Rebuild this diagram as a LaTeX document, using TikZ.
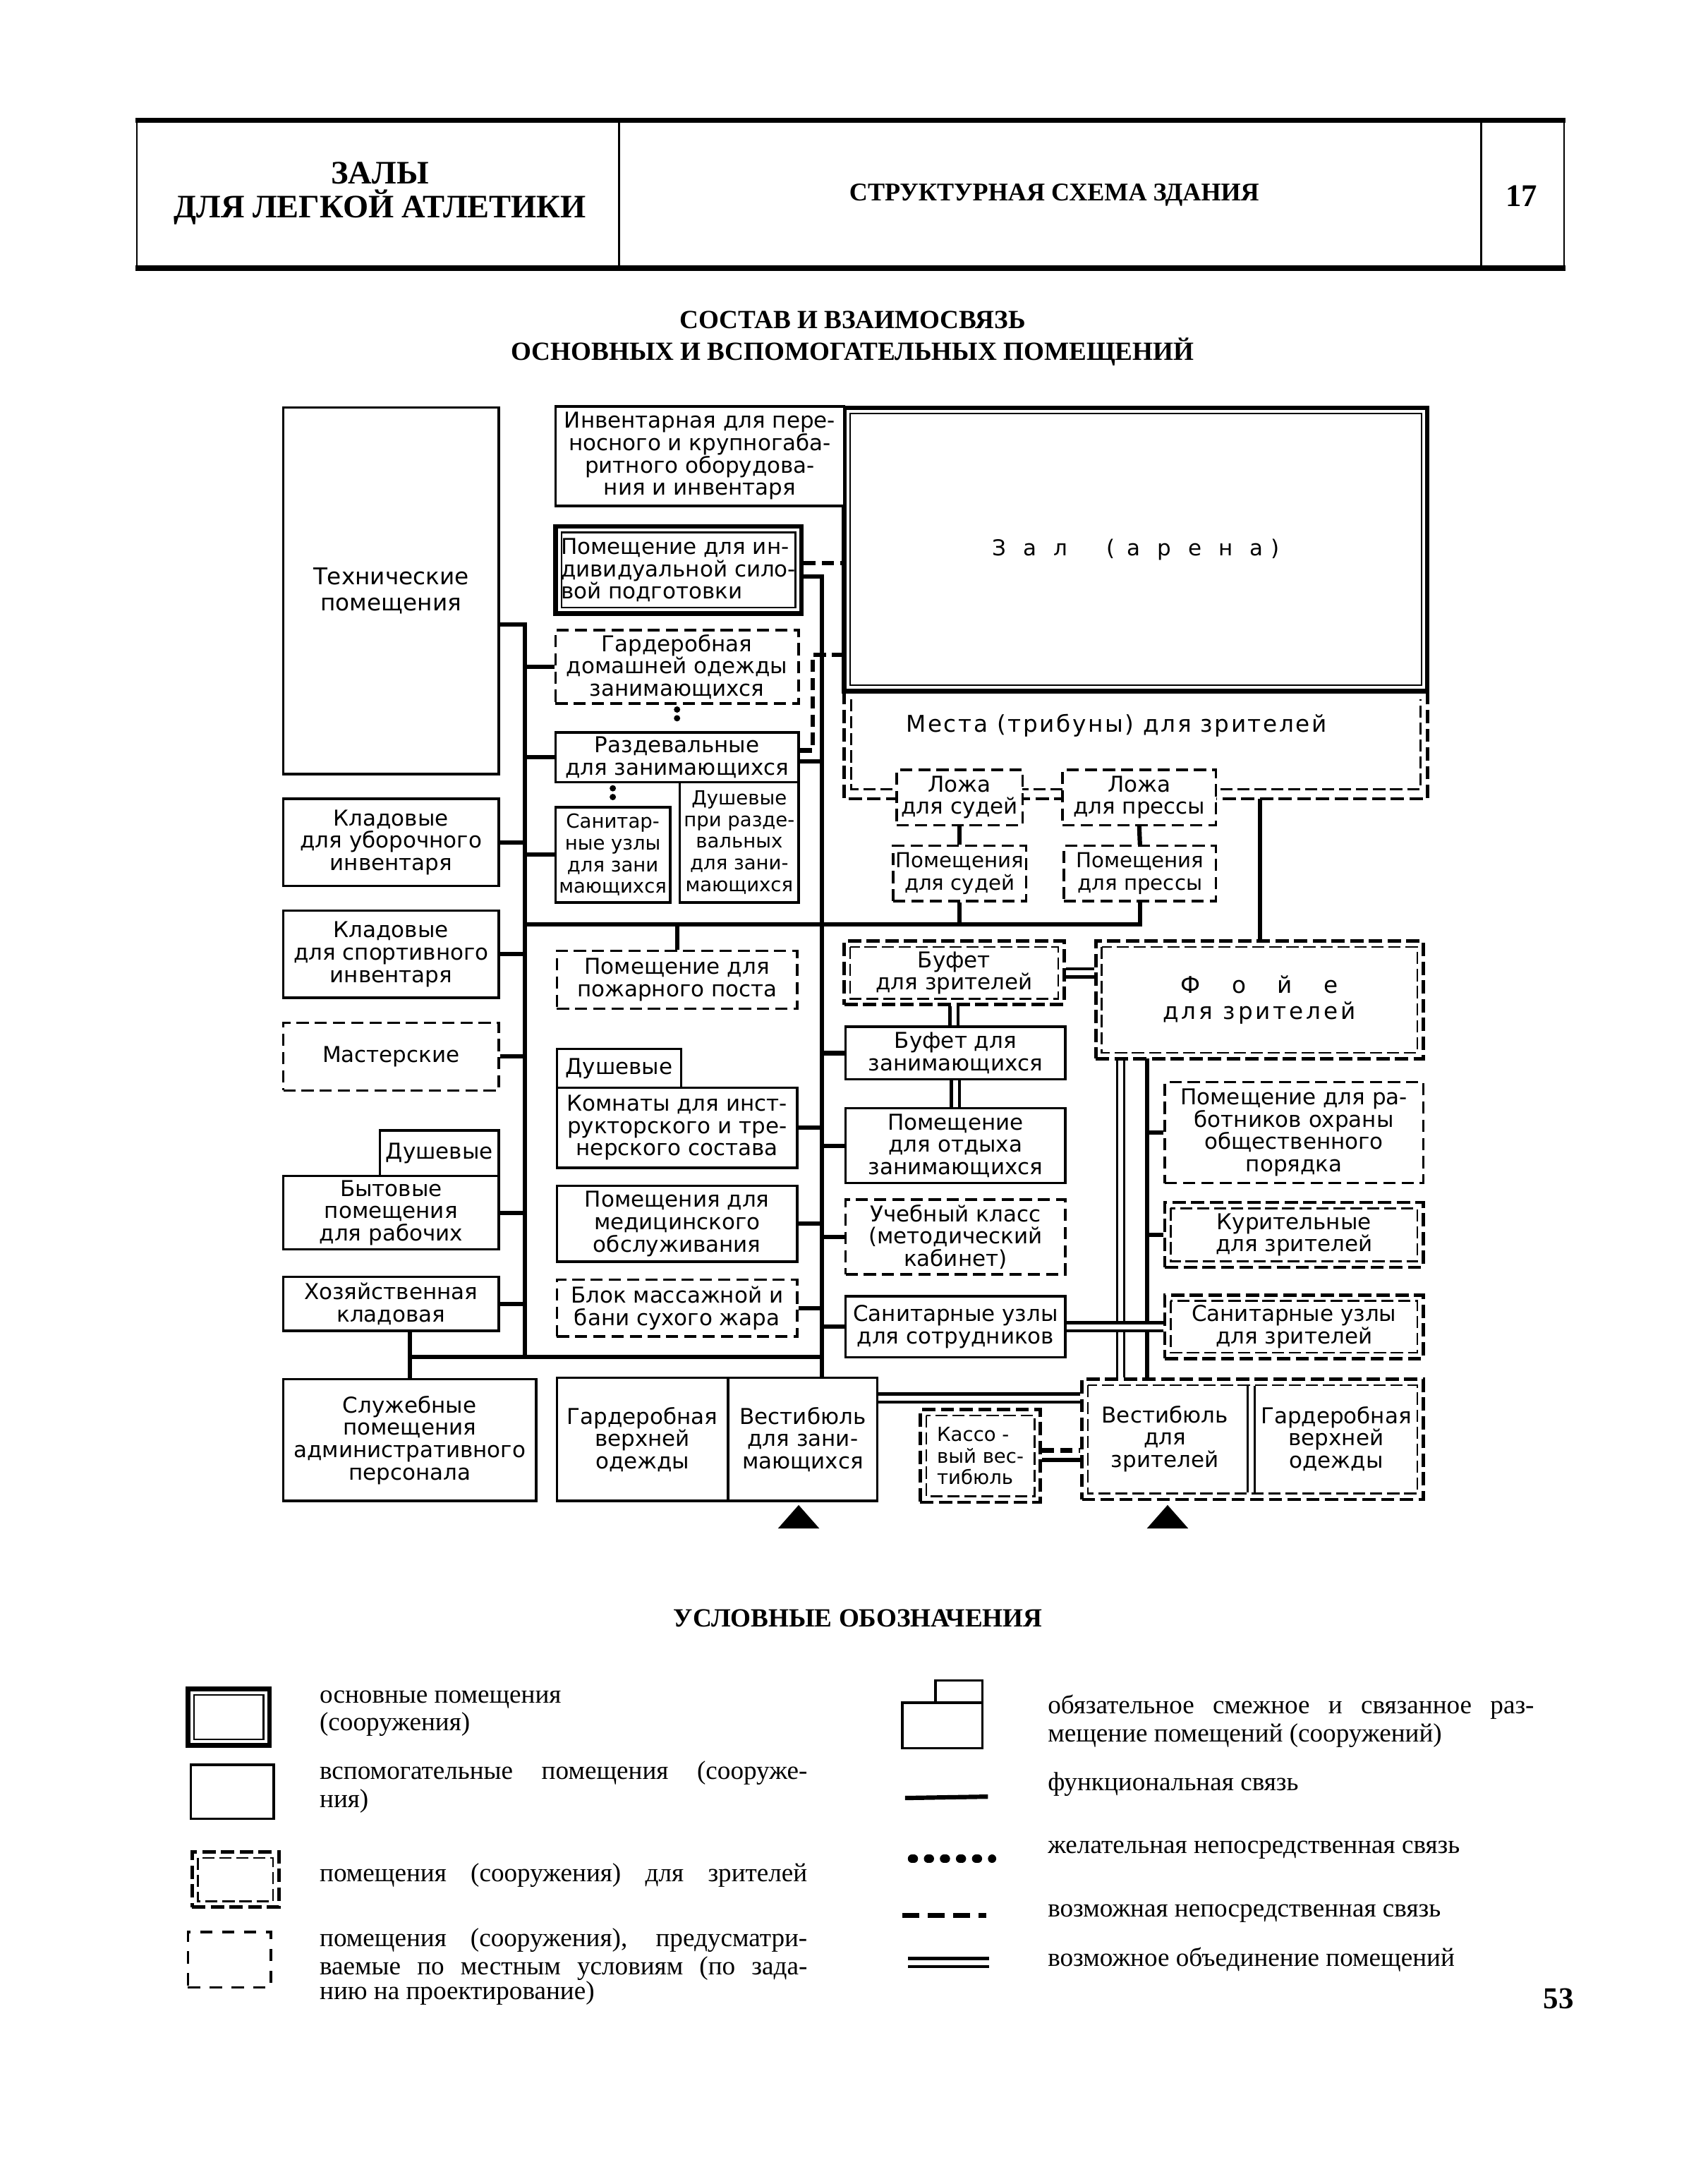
\documentclass[tikz,border=0pt]{standalone}
\usepackage{fontspec}
\setmainfont{Liberation Serif}
\newfontfamily\dia{DejaVu Sans}
\usetikzlibrary{calc}
\pgfdeclarelayer{bg}
\pgfsetlayers{bg,main}
\newcommand\Bx[7]{\node[#6, minimum width={(#4-#2)*0.02cm}, minimum height={(#5-#3)*0.02cm}] (#1) at ({(#2+#4)/2},{(#3+#5)/2}) {#7};}
\newcommand\InMain[1]{\draw[line width=0.7pt] ([shift={(0.12cm,-0.12cm)}]#1.north west) rectangle ([shift={(-0.12cm,0.12cm)}]#1.south east);}
\newcommand\InSp[1]{\draw[line width=0.7pt, dash pattern=on 5pt off 2pt] ([shift={(0.11cm,-0.11cm)}]#1.north west) rectangle ([shift={(-0.11cm,0.11cm)}]#1.south east);}
\begin{document}
\begin{tikzpicture}[x=0.02cm,y=-0.02cm,
  txt/.style={font=\dia\fontsize{9}{9.2}\selectfont, align=center, inner sep=1pt},
  aux/.style={txt, draw, line width=1pt, fill=white},
  opt/.style={aux, dash pattern=on 5pt off 2.5pt},
  mainb/.style={txt, draw, line width=1.9pt, fill=white},
  spec/.style={txt, draw, line width=1.4pt, dash pattern=on 5.5pt off 2.2pt, fill=white},
  func/.style={line width=1.8pt},
  poss/.style={line width=1.8pt, dash pattern=on 5pt off 2.5pt},
  desir/.style={line width=2.6pt, line cap=round, dash pattern=on 0pt off 3.6pt, shorten <=2pt, shorten >=2pt},
  union/.style={double, double distance=2pt, line width=1.3pt},
  legt/.style={font=\fontsize{10.8}{10.3}\selectfont, align=left, inner sep=0pt, anchor=north west},
  small/.style={font=\dia\fontsize{8}{8.9}\selectfont},
]
\useasboundingbox (0,0) rectangle (1236,1568);

% header
\draw[line width=2.2pt] (98,87) -- (1133,87);
\draw[line width=2.2pt] (98,194) -- (1133,194);
\draw[line width=0.8pt] (99,87)--(99,194) (448,87)--(448,194) (1072,87)--(1072,194) (1132,87)--(1132,194);
\node[font=\bfseries\fontsize{13.5}{13.8}\selectfont, align=center] (h1) at (275,140) {ЗАЛЫ\\ДЛЯ ЛЕГКОЙ АТЛЕТИКИ};
\node[font=\bfseries\fontsize{10.5}{12}\selectfont] (h2) at (763,141) {СТРУКТУРНАЯ СХЕМА ЗДАНИЯ};
\node[font=\bfseries\fontsize{13}{13}\selectfont] (h3) at (1101,142) {17};
\node[font=\bfseries\fontsize{10.8}{13.1}\selectfont, align=center] (t1) at (617,245) {СОСТАВ И ВЗАИМОСВЯЗЬ\\ОСНОВНЫХ И ВСПОМОГАТЕЛЬНЫХ ПОМЕЩЕНИЙ};
\node[font=\bfseries\fontsize{10.8}{12}\selectfont] (t2) at (621,1171) {УСЛОВНЫЕ ОБОЗНАЧЕНИЯ};
\node[font=\bfseries\fontsize{12.5}{12}\selectfont] (pg) at (1128,1446) {53};

% spectators seats (U-shaped frame under the hall)
\Bx{mesta}{611}{500}{1033}{578}{txt}{}
\draw[line width=1.4pt, dash pattern=on 5.5pt off 2.2pt] (611,500) -- (611,578) -- (1033,578) -- (1033,500);
\draw[line width=0.7pt, dash pattern=on 5pt off 2pt] (616,506) -- (616,571) -- (1028,571) -- (1028,506);
\node[txt, font=\dia\fontsize{9.5}{10}\selectfont\addfontfeature{LetterSpace=8}] (mestat) at (808,525) {Места (трибуны) для зрителей};

% hall
\Bx{zal}{611}{295}{1033}{500}{mainb}{З\hspace{7pt}а\hspace{7pt}л\hspace{16pt}(\hspace{5pt}а\hspace{7pt}р\hspace{7pt}е\hspace{7pt}н\hspace{7pt}а\hspace{3pt})}
\InMain{zal}

% boxes
\Bx{tech}{205}{295}{361}{560}{aux, font=\dia\fontsize{9.5}{10.8}\selectfont}{Технические\\помещения}
\Bx{inv}{402}{294}{611}{366}{aux}{Инвентарная для пере-\\носного и крупногаба-\\ритного оборудова-\\ния и инвентаря}
\Bx{sudL}{649}{557}{740}{597}{opt}{Ложа\\для судей}
\Bx{presL}{769}{557}{880}{597}{opt}{Ложа\\для прессы}
\Bx{sudS}{649}{612}{740}{652}{opt, font=\dia\fontsize{8.5}{9.2}\selectfont}{Помещения\\для судей}
\Bx{presS}{770}{612}{880}{652}{opt, font=\dia\fontsize{8.5}{9.2}\selectfont}{Помещения\\для прессы}

\Bx{sil}{402}{381}{580}{444}{mainb, align=left}{Помещение для ин-\\дивидуальной сило-\\вой подготовки}
\InMain{sil}
\Bx{gard}{402}{456}{578}{509}{opt}{Гардеробная\\домашней одежды\\занимающихся}
\Bx{razd}{402}{530}{578}{566}{aux}{Раздевальные\\для занимающихся}
\Bx{sanz}{402}{584}{485}{653}{aux, small}{Санитар-\\ные узлы\\для зани\\мающихся}
\Bx{dush}{492}{566}{578}{653}{aux, small}{Душевые\\при разде-\\вальных\\для зани-\\мающихся}

\Bx{klad1}{205}{578}{361}{641}{aux}{Кладовые\\для уборочного\\инвентаря}
\Bx{klad2}{205}{659}{361}{722}{aux}{Кладовые\\для спортивного\\инвентаря}
\Bx{mast}{205}{740}{361}{789}{opt}{Мастерские}
\Bx{dush2}{275}{818}{361}{851}{aux}{Душевые}
\Bx{byt}{205}{851}{361}{904}{aux}{Бытовые\\помещения\\для рабочих}
\Bx{hoz}{205}{924}{361}{963}{aux}{Хозяйственная\\кладовая}
\Bx{sluzh}{205}{998}{388}{1086}{aux}{Служебные\\помещения\\административного\\персонала}
\Bx{gardZ}{403}{997}{527}{1086}{aux}{Гардеробная\\верхней\\одежды}
\Bx{vestZ}{527}{997}{635}{1086}{aux}{Вестибюль\\для зани-\\мающихся}

\Bx{pozh}{403}{688}{577}{730}{opt}{Помещение для\\пожарного поста}
\Bx{dush3}{403}{759}{493}{787}{aux}{Душевые}
\Bx{komn}{403}{787}{577}{845}{aux}{Комнаты для инст-\\рукторского и тре-\\нерского состава}
\Bx{med}{403}{858}{577}{913}{aux}{Помещения для\\медицинского\\обслуживания}
\Bx{blok}{403}{926}{577}{967}{opt}{Блок массажной и\\бани сухого жара}

\Bx{bufZr}{611}{681}{770}{727}{spec}{Буфет\\для зрителей}
\InSp{bufZr}
\Bx{bufZ}{612}{743}{771}{781}{aux}{Буфет для\\занимающихся}
\Bx{otd}{612}{802}{771}{856}{aux}{Помещение\\для отдыха\\занимающихся}
\Bx{ucheb}{612}{868}{771}{922}{opt}{Учебный класс\\(методический\\кабинет)}
\Bx{sanS}{612}{938}{771}{982}{aux}{Санитарные узлы\\для сотрудников}

\Bx{foy}{793}{681}{1030}{766}{spec, font=\dia\fontsize{9.5}{10.8}\selectfont}{Ф\hspace{13pt}о\hspace{13pt}й\hspace{13pt}е\\\addfontfeature{LetterSpace=12}для зрителей}
\InSp{foy}
\Bx{ohr}{843}{783}{1030}{856}{opt}{Помещение для ра-\\ботников охраны\\общественного\\порядка}
\Bx{kur}{843}{870}{1030}{917}{spec}{Курительные\\для зрителей}
\InSp{kur}
\Bx{sanZr}{843}{937}{1030}{983}{spec}{Санитарные узлы\\для зрителей}
\InSp{sanZr}
\Bx{vestZr}{783}{998}{1030}{1085}{spec}{}
\InSp{vestZr}
\draw[line width=0.7pt] (903,1003) -- (903,1080) (908,1003) -- (908,1080);
\node[txt] (vzt) at (843,1041) {Вестибюль\\для\\зрителей};
\node[txt] (gzt) at (967,1041) {Гардеробная\\верхней\\одежды};
\Bx{kassa}{666}{1020}{753}{1087}{spec, small, align=left}{Кассо -\\вый вес-\\тибюль}
\InSp{kassa}

% entrances
\fill (563,1106) -- (578,1089) -- (593,1106) -- cycle;
\fill (830,1106) -- (845,1089) -- (860,1106) -- cycle;

% connectors
\begin{pgfonlayer}{bg}
\coordinate (sAt) at (380,452);
\coordinate (sAb) at (380,982);
\coordinate (sBt) at (595,417);
\coordinate (hL) at (380,669);
\coordinate (dz) at (588,474);
\coordinate (mf) at (912,578);
\coordinate (fv) at (811,766);
\coordinate (fw) at (830,766);
\draw[func] (tech.east |- sAt) -- (sAt) -- (sAb);
\draw[func] (sluzh.north |- sAb) -- (sAb -| sBt);
\draw[func] (hoz.south -| sluzh.north) -- (sluzh.north);
\draw[func] (sBt -| sil.east) -- (sBt) -- (sBt |- vestZ.north);
\foreach \n in {klad1,klad2,mast,byt,hoz} \draw[func] (\n.east) -- (\n.east -| sAt);
\foreach \n in {gard,razd,sanz} \draw[func] (\n.west) -- (\n.west -| sAt);
\foreach \n in {komn,med,blok} \draw[func] (\n.east) -- (\n.east -| sBt);
\foreach \n in {bufZ,otd,ucheb} \draw[func] (\n.west) -- (\n.west -| sBt);
\draw[func] ([yshift=-0.06cm]razd.east) -- ([yshift=-0.06cm]razd.east -| sBt);
\draw[func] (sanS.west) -- (sanS.west -| sBt);
\draw[func] (hL) -- (hL -| presS.south) -- (presS.south);
\draw[func] (sudS.south) -- (sudS.south |- hL);
\draw[func] (pozh.north) -- (pozh.north |- hL);
\draw[func] (sudL.south) -- (sudS.north);
\draw[func] (presL.south) -- (presS.north);
\draw[func] (mf) -- (mf |- foy.north);
\draw[poss] ([yshift=0.1cm]sil.east) -- ([yshift=0.1cm]sil.east -| zal.west);
\draw[poss] ([yshift=0.1cm]razd.east) -| (dz) -- (dz -| zal.west);
\draw[desir] (gard.south) -- (razd.north);
\draw[desir] (sanz.north |- razd.south) -- (sanz.north);
\draw[union] (bufZr.east) -- (bufZr.east -| foy.west);
\draw[union] (bufZr.south) -- (bufZr.south |- bufZ.north);
\draw[union] (bufZ.south) -- (bufZ.south |- otd.north);
\draw[union, line width=0.9pt] (fv) -- (fv |- vestZr.north);
\draw[func] (fw) -- (fw |- vestZr.north);
\foreach \n in {ohr,kur} \draw[func] (\n.west) -- (\n.west -| fw);
\draw[union] (sanS.east) -- (sanS.east -| sanZr.west);
\draw[union] ([yshift=0.6cm]vestZ.east) -- ([yshift=0.6cm]vestZ.east -| vestZr.west);
\draw[poss] ([yshift=0.08cm]kassa.east) -- ([yshift=0.08cm]kassa.east -| vestZr.west);
\draw[func] ([yshift=-0.06cm]kassa.east) -- ([yshift=-0.06cm]kassa.east -| vestZr.west);
\end{pgfonlayer}

% legend
\Bx{lg1}{136}{1222}{195}{1263}{mainb}{}
\InMain{lg1}
\Bx{lg2}{138}{1277}{198}{1316}{aux}{}
\Bx{lg3}{139}{1340}{202}{1380}{spec}{}
\InSp{lg3}
\Bx{lg4}{136}{1398}{196}{1438}{opt, dash pattern=on 5pt off 4pt}{}
\Bx{lg5}{653}{1232}{711}{1265}{aux}{}
\Bx{lg6}{677}{1216}{711}{1232}{aux}{}
\coordinate (la1) at (655,1301); \coordinate (lb1) at (715,1300);
\coordinate (la2) at (660,1345); \coordinate (lb2) at (718,1345);
\coordinate (la3) at (653,1386); \coordinate (lb3) at (714,1386);
\coordinate (la4) at (657,1420); \coordinate (lb4) at (716,1420);
\draw[func] (la1) -- (lb1);
\draw[line width=3.4pt, line cap=round, dash pattern=on 0.8pt off 5.8pt] (la2) -- (lb2);
\draw[poss, dash pattern=on 7pt off 3.5pt] (la3) -- (lb3);
\draw[union] (la4) -- (lb4);
\node[legt] (lt1) at (231,1219) {\strut основные помещения\\(сооружения)};
\node[legt] (lt2) at (231,1274) {\strut\makebox[7.06cm][s]{вспомогательные помещения (сооруже-}\\ния)};
\node[legt] (lt3) at (231,1348) {\strut\makebox[7.06cm][s]{помещения (сооружения) для зрителей}};
\node[legt] (lt4) at (231,1395) {\strut\makebox[7.06cm][s]{помещения (сооружения), предусматри-}\\\makebox[7.06cm][s]{ваемые по местным условиям (по зада-}\\нию на проектирование)};
\node[legt] (lt5) at (758,1226) {\strut\makebox[7.04cm][s]{обязательное смежное и связанное раз-}\\мещение помещений (сооружений)};
\node[legt] (lt6) at (758,1282) {\strut функциональная связь};
\node[legt] (lt7) at (758,1328) {\strut желательная непосредственная связь};
\node[legt] (lt8) at (758,1374) {\strut возможная непосредственная связь};
\node[legt] (lt9) at (758,1409) {\strut возможное объединение помещений};
\end{tikzpicture}
\end{document}
